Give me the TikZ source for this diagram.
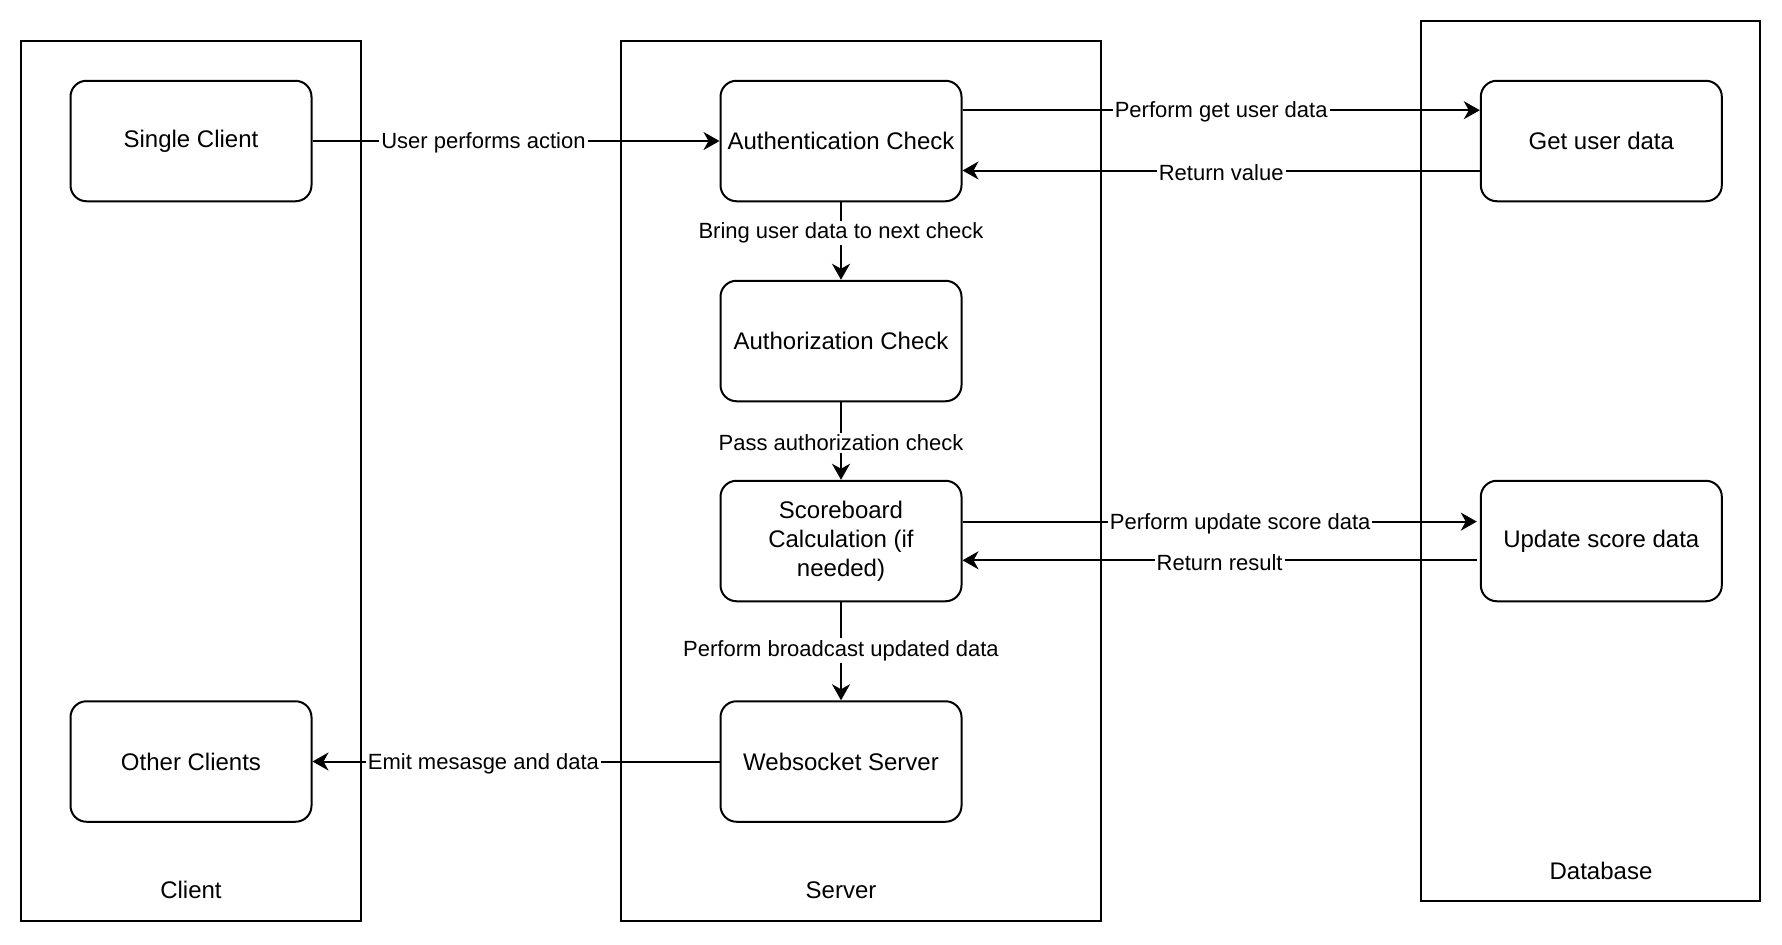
\documentclass[tikz,border=0pt]{standalone}
\usepackage{fontspec}
\setmainfont{Liberation Sans}
\usetikzlibrary{positioning, arrows.meta}

\begin{document}
\begin{tikzpicture}[x=0.5pt, y=-0.5pt,
    lane/.style={draw, line width=1pt},
    box/.style={draw, line width=1pt, rectangle, rounded corners=8pt, minimum width=120.5pt, minimum height=60.25pt, align=center, font=\fontsize{12}{14.5}\selectfont},
    lanetxt/.style={font=\fontsize{12}{14.5}\selectfont},
    lbl/.style={fill=white, inner sep=1pt, yshift=-1pt, font=\fontsize{11}{13}\selectfont},
    flow/.style={-{Stealth[length=8pt, width=9pt, inset=2.5pt]}, line width=1pt}]
    \useasboundingbox (0,0) rectangle (1782,944);
    % containers
    \draw[lane] (20.5,40.9) rectangle (361.4,920.5);
    \draw[lane] (620.5,40.9) rectangle (1101.2,920.5);
    \draw[lane] (1420.6,20.5) rectangle (1760.4,901.2);
    \node[lanetxt] (clientlbl) at (191,890) {Client};
    \node[lanetxt] (serverlbl) at (841,890) {Server};
    \node[lanetxt] (dblbl) at (1601,870.5) {Database};
    % nodes
    \node[box] (single) at (191,141) {Single Client};
    \node[box] (others) at (191,761.5) {Other Clients};
    \node[box] (authn) at (841,141) {Authentication Check};
    \node[box] (authz) at (841,341) {Authorization Check};
    \node[box] (score) at (841,541) {Scoreboard\\Calculation (if\\needed)};
    \node[box] (wss) at (841,761.5) {Websocket Server};
    \node[box] (getuser) at (1601.3,141) {Get user data};
    \node[box] (updscore) at (1601.3,541) {Update score data};
    % connectors
    \draw[flow] (single) -- node[lbl, pos=0.42] {User performs action} (authn);
    \draw[flow] ([yshift=15.4pt]authn.east) -- node[lbl, pos=0.5] {Perform get user data} ([yshift=15.4pt]getuser.west);
    \draw[flow] ([yshift=-14.75pt]getuser.west) -- node[lbl, pos=0.5] {Return value} ([yshift=-14.75pt]authn.east);
    \draw[flow] (authn) -- node[lbl, pos=0.37] {Bring user data to next check} (authz);
    \draw[flow] (authz) -- node[lbl] {Pass authorization check} (score);
    \draw[flow] ([yshift=9.7pt]score.east) -- node[lbl, pos=0.54] {Perform update score data} ([yshift=9.7pt,xshift=-1.5pt]updscore.west);
    \draw[flow] ([yshift=-9.65pt,xshift=-1.5pt]updscore.west) -- node[lbl, pos=0.5] {Return result} ([yshift=-9.65pt]score.east);
    \draw[flow] (score) -- node[lbl, pos=0.47] {Perform broadcast updated data} (wss);
    \draw[flow] (wss) -- node[lbl, pos=0.58] {Emit mesasge and data} (others);
\end{tikzpicture}
\end{document}
